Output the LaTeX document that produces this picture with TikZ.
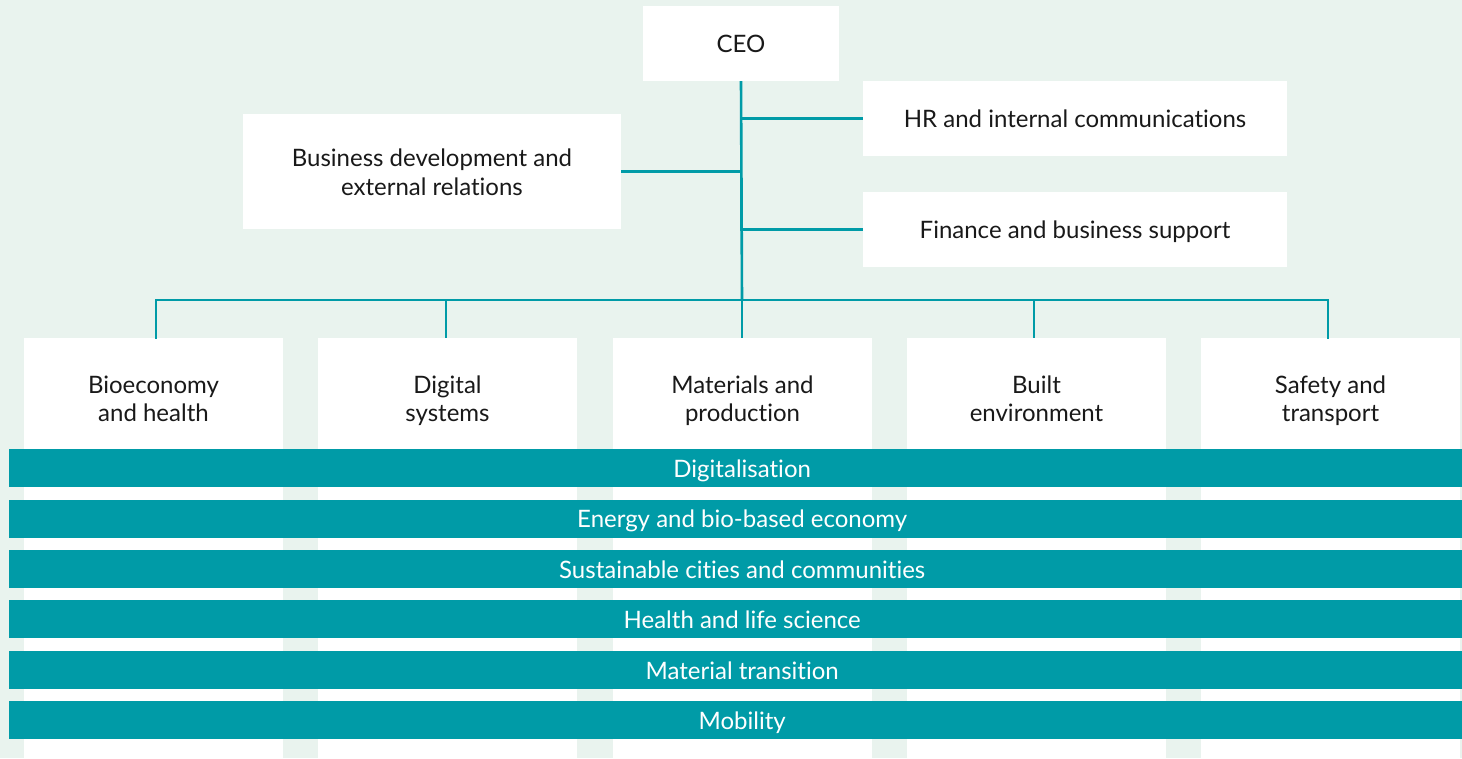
\documentclass[tikz,border=0pt]{standalone}
\usepackage{fontspec}
\setmainfont{Lato}[Ligatures={NoCommon}]
\definecolor{bgc}{RGB}{233,243,238}
\definecolor{teal1}{RGB}{0,155,167}
\begin{document}
\begin{tikzpicture}[x=1pt,y=-1pt,
  box/.style={fill=white,inner sep=0pt,align=center,font=\fontsize{24}{28.4}\selectfont,text=black!90,text height=18.4pt,text depth=0pt},
  twoline/.style={text height=47pt,text depth=0pt},
  colbox/.style={text height=56.4pt,text depth=0pt},
  bar/.style={fill=teal1,inner sep=0pt,minimum width=1466pt,minimum height=38pt,anchor=west,text=white,font=\fontsize{24}{28}\selectfont,text height=18.6pt,text depth=0pt},
  conn/.style={draw=teal1,line width=2.6pt}]
\useasboundingbox (0,0) rectangle (1462,758);
\fill[bgc] (0,0) rectangle (1462,758);
% top boxes
\node[box,minimum width=196pt,minimum height=75pt] (ceo) at (741,43.5) {CEO};
\node[box,minimum width=424pt,minimum height=75pt] (hr) at (1075,118.5) {HR and internal communications};
\node[box,minimum width=424pt,minimum height=75pt] (fin) at (1075,229.5) {Finance and business support};
\node[box,twoline,minimum width=378pt,minimum height=115pt] (bd) at (432,171.5) {Business development and\\external relations};
% columns
\foreach \n/\cx/\t in {c1/153.5/{Bioeconomy\\and health},c2/447.5/{Digital\\systems},c3/742.5/{Materials and\\production},c4/1036.5/{Built\\environment},c5/1330.5/{Safety and\\transport}}{
  \node[box,colbox,minimum width=259pt,minimum height=111pt] (\n) at (\cx,393.5) {\t};
  \fill[white] (\n.south west) rectangle (\n.south east |- 0,758);
}
% connectors
\coordinate (bus) at (742,300);
\draw[conn] (ceo.south) -- (bus);
\draw[conn] (ceo.south) |- (hr.west);
\draw[conn] (ceo.south) |- (fin.west);
\draw[conn] (ceo.south) |- (bd.east);
\draw[conn,line cap=rect] (c1.north -| 156,0) |- (bus);
\draw[conn] (c2.north -| 446,0) |- (bus);
\draw[conn] (c3.north -| 742,0) -- (bus);
\draw[conn] (c4.north -| 1034,0) |- (bus);
\draw[conn,line cap=rect] (c5.north -| 1328,0) |- (bus);
% bars
\node[bar] (b1) at (9,468) {Digitalisation};
\node[bar] (b2) at (9,518.5) {Energy and bio-based economy};
\node[bar] (b3) at (9,569) {Sustainable cities and communities};
\node[bar] (b4) at (9,619) {Health and life science};
\node[bar] (b5) at (9,670) {Material transition};
\node[bar] (b6) at (9,720) {Mobility};
\end{tikzpicture}
\end{document}
